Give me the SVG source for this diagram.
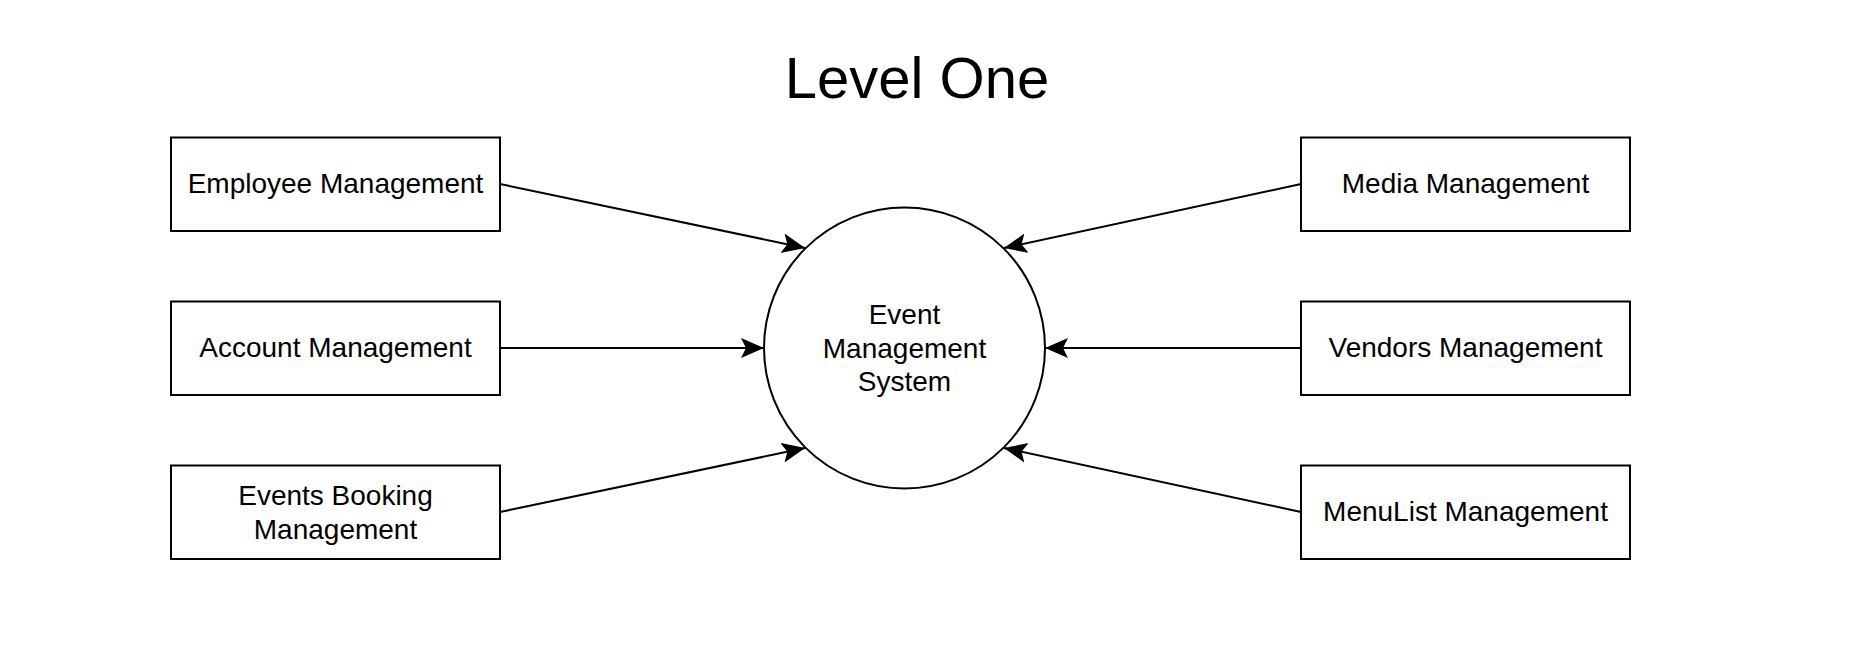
<svg xmlns="http://www.w3.org/2000/svg" width="1851" height="663" viewBox="0 0 1851 663">
<style>
.box{fill:#fff;stroke:#000;stroke-width:2}
.lbl{font-family:"Liberation Sans",Arial,sans-serif;font-size:28px;fill:#000;text-anchor:middle}
.title{font-family:"Liberation Sans",Arial,sans-serif;font-size:58px;fill:#000;text-anchor:middle}
.edge{fill:none;stroke:#000;stroke-width:2;marker-end:url(#arr)}
</style>
<defs>
<marker id="arr" markerUnits="userSpaceOnUse" markerWidth="28" markerHeight="22" refX="23" refY="10" orient="auto">
<path d="M0,0 L23,10 L0,20 L5,10 Z" fill="#000"/>
</marker>
</defs>
<rect width="1851" height="663" fill="#fff"/>
<text class="title" x="917" y="98">Level One</text>
<g id="connectors">
<line class="edge" x1="500" y1="184" x2="805" y2="248"/>
<line class="edge" x1="500" y1="348" x2="764" y2="348"/>
<line class="edge" x1="500" y1="512" x2="805" y2="448"/>
<line class="edge" x1="1301" y1="184" x2="1004" y2="248"/>
<line class="edge" x1="1301" y1="348" x2="1045" y2="348"/>
<line class="edge" x1="1301" y1="512" x2="1004" y2="448"/>
</g>
<g id="center">
<circle class="box" cx="904.5" cy="348" r="140.5"/>
<text class="lbl" x="904.5" y="324">Event</text>
<text class="lbl" x="904.5" y="357.5">Management</text>
<text class="lbl" x="904.5" y="391">System</text>
</g>
<g id="employee">
<rect class="box" x="171" y="137.5" width="329" height="93.5"/>
<text class="lbl" x="335.5" y="193">Employee Management</text>
</g>
<g id="account">
<rect class="box" x="171" y="301.5" width="329" height="93.5"/>
<text class="lbl" x="335.5" y="357">Account Management</text>
</g>
<g id="booking">
<rect class="box" x="171" y="465.5" width="329" height="93.5"/>
<text class="lbl" x="335.5" y="505">Events Booking</text>
<text class="lbl" x="335.5" y="538.5">Management</text>
</g>
<g id="media">
<rect class="box" x="1301" y="137.5" width="329" height="93.5"/>
<text class="lbl" x="1465.5" y="193">Media Management</text>
</g>
<g id="vendors">
<rect class="box" x="1301" y="301.5" width="329" height="93.5"/>
<text class="lbl" x="1465.5" y="357">Vendors Management</text>
</g>
<g id="menulist">
<rect class="box" x="1301" y="465.5" width="329" height="93.5"/>
<text class="lbl" x="1465.5" y="521">MenuList Management</text>
</g>
</svg>
